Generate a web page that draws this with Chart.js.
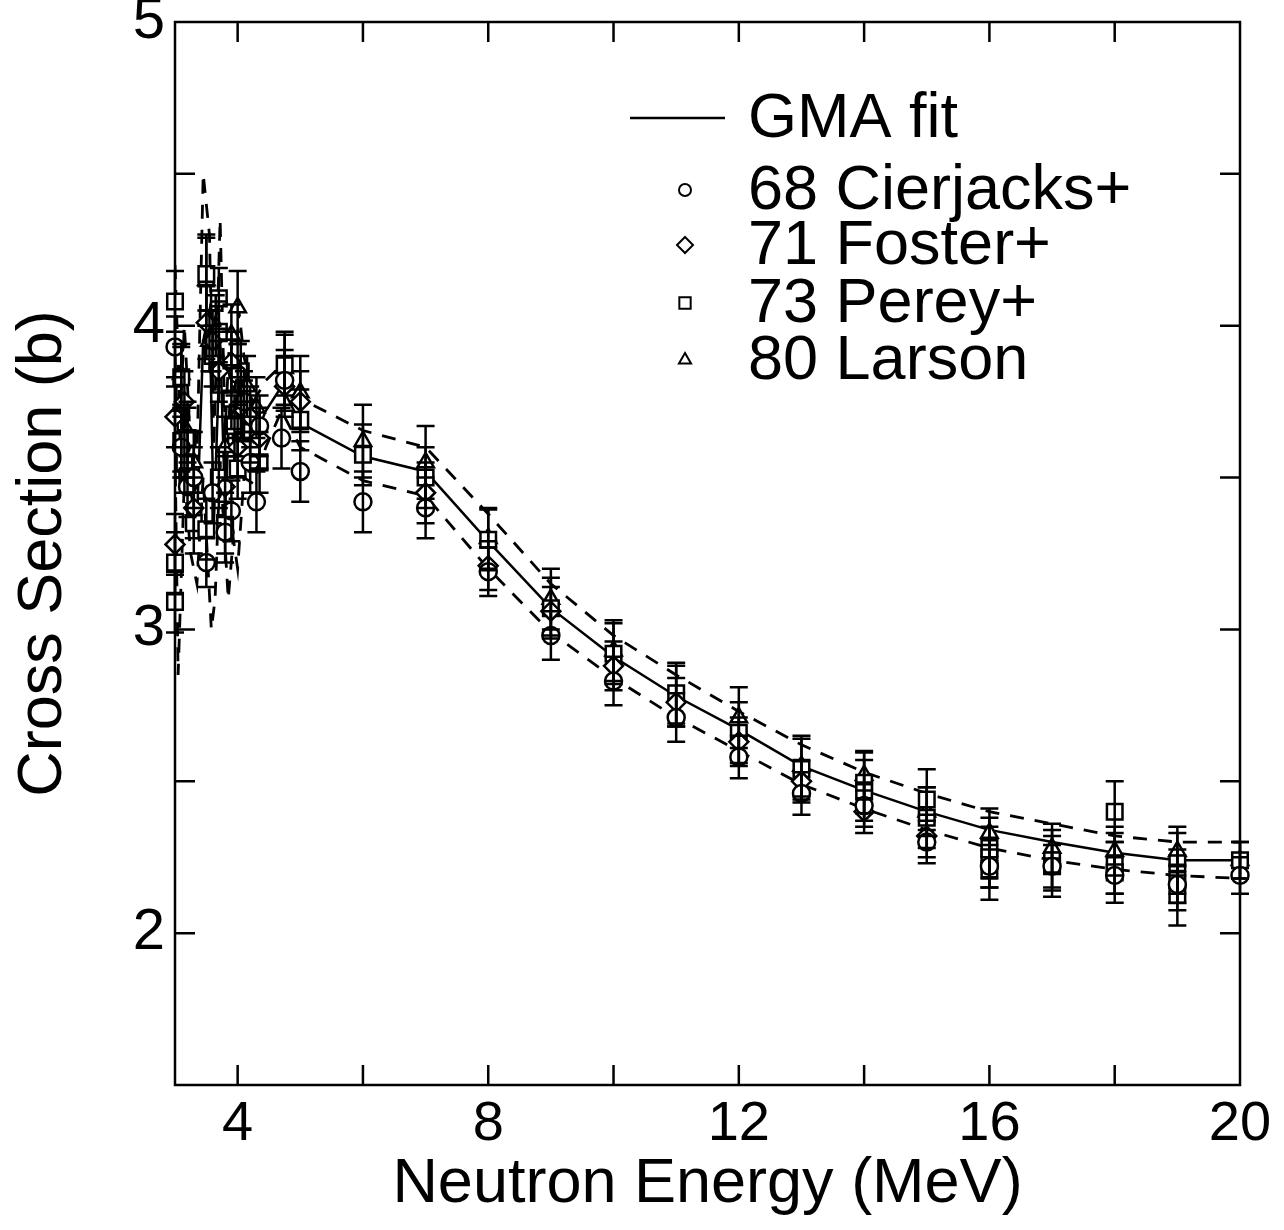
<!DOCTYPE html>
<html>
<head>
<meta charset="utf-8">
<script src="https://cdn.jsdelivr.net/npm/chart.js@4.4.1/dist/chart.umd.min.js"></script>
<style>
  html, body { margin: 0; padding: 0; background: #fff; }
  #wrap { width: 1284px; height: 1230px; }
</style>
</head>
<body>
<div id="wrap"><canvas id="c" width="1284" height="1230"></canvas></div>
<script>
// GMA fit (solid) and its uncertainty band (dashed), energies in MeV, cross sections in b
const fitE   = [3.0, 3.08, 3.15, 3.25, 3.35, 3.45, 3.55, 3.62, 3.72, 3.8, 3.88, 3.95, 4.02, 4.1, 4.25, 4.45, 4.7, 5, 6, 7, 8, 9, 10, 11, 12, 13, 14, 15, 16, 17, 18, 19, 20];
const fitSig = [3.92, 3.45, 3.78, 3.45, 3.35, 3.95, 4.05, 3.35, 3.95, 3.40, 3.78, 3.55, 3.85, 3.70, 3.62, 3.72, 3.80, 3.68, 3.57, 3.52, 3.29, 3.07, 2.91, 2.78, 2.67, 2.55, 2.47, 2.40, 2.34, 2.30, 2.265, 2.24, 2.24];

const upE   = [3.0, 3.08, 3.15, 3.25, 3.35, 3.45, 3.55, 3.62, 3.72, 3.8, 3.88, 3.95, 4.02, 4.1, 4.25, 4.45, 4.7, 5, 6, 7, 8, 9, 10, 11, 12, 13, 14, 15, 16, 17, 18, 19, 20];
const upSig = [4.20, 3.70, 4.00, 3.60, 3.55, 4.50, 4.30, 3.60, 4.35, 3.65, 4.00, 3.75, 4.05, 3.90, 3.75, 3.82, 3.87, 3.76, 3.655, 3.60, 3.38, 3.15, 2.98, 2.85, 2.73, 2.62, 2.53, 2.46, 2.40, 2.36, 2.32, 2.30, 2.30];

const loE   = [3.0, 3.05, 3.15, 3.25, 3.35, 3.45, 3.58, 3.64, 3.72, 3.85, 3.93, 4.0, 4.1, 4.25, 4.45, 4.7, 5, 6, 7, 8, 9, 10, 11, 12, 13, 14, 15, 16, 17, 18, 19, 20];
const loSig = [3.60, 2.85, 3.50, 3.25, 3.15, 3.50, 3.00, 3.10, 3.55, 3.10, 3.30, 3.20, 3.50, 3.48, 3.60, 3.72, 3.60, 3.49, 3.44, 3.20, 2.99, 2.84, 2.71, 2.60, 2.49, 2.41, 2.34, 2.28, 2.24, 2.21, 2.19, 2.18];

// 68 Cierjacks+
const cierE   = [3.0, 3.1, 3.2, 3.3, 3.5, 3.6, 3.8, 3.9, 4.0, 4.1, 4.2, 4.3, 4.35, 4.7, 4.75, 5, 6, 7, 8, 9, 10, 11, 12, 13, 14, 15, 16, 17, 18, 19, 20];
const cierSig = [3.93, 3.60, 3.47, 3.50, 3.22, 3.45, 3.32, 3.39, 3.84, 3.75, 3.55, 3.42, 3.67, 3.63, 3.82, 3.52, 3.42, 3.40, 3.19, 2.98, 2.83, 2.71, 2.58, 2.46, 2.42, 2.30, 2.22, 2.22, 2.19, 2.16, 2.19];
const cierErr = [0.10, 0.10, 0.10, 0.10, 0.08, 0.10, 0.10, 0.10, 0.10, 0.10, 0.10, 0.10, 0.10, 0.10, 0.10, 0.10, 0.10, 0.10, 0.08, 0.08, 0.08, 0.08, 0.07, 0.07, 0.07, 0.07, 0.07, 0.07, 0.06, 0.06, 0.06];

// 71 Foster+
const fostE   = [3.0, 3.0, 3.15, 3.3, 3.5, 3.6, 3.7, 3.8, 3.9, 4.0, 4.1, 4.2, 4.35, 4.75, 5, 7, 8, 9, 10, 11, 12, 13, 14, 15];
const fostSig = [3.70, 3.28, 3.75, 3.40, 4.01, 3.95, 3.85, 3.47, 3.88, 3.60, 3.72, 3.70, 3.63, 3.80, 3.75, 3.45, 3.21, 3.06, 2.88, 2.76, 2.63, 2.50, 2.40, 2.32];
const fostErr = [0.10, 0.10, 0.10, 0.10, 0.12, 0.10, 0.10, 0.10, 0.10, 0.10, 0.10, 0.10, 0.10, 0.10, 0.10, 0.10, 0.08, 0.08, 0.08, 0.08, 0.08, 0.07, 0.07, 0.07];

// 73 Perey+
const perE   = [3.0, 3.0, 3.0, 3.1, 3.1, 3.15, 3.2, 3.3, 3.5, 3.5, 3.6, 3.7, 3.7, 3.7, 3.8, 3.9, 3.95, 4.0, 4.05, 4.2, 4.35, 4.75, 5, 6, 7, 8, 9, 10, 11, 12, 13, 14, 14, 15, 15, 16, 16, 16, 17, 17, 18, 18, 18, 19, 19, 19, 20];
const perSig = [4.08, 3.22, 3.09, 3.83, 3.62, 3.55, 3.63, 3.35, 4.17, 3.33, 3.90, 4.09, 3.98, 3.50, 3.35, 3.76, 3.67, 3.53, 3.85, 3.65, 3.55, 3.87, 3.69, 3.575, 3.50, 3.295, 3.07, 2.92, 2.79, 2.66, 2.54, 2.495, 2.47, 2.44, 2.38, 2.28, 2.25, 2.21, 2.24, 2.22, 2.40, 2.23, 2.20, 2.23, 2.175, 2.125, 2.24];
const perErr = [0.10, 0.10, 0.10, 0.10, 0.10, 0.10, 0.10, 0.10, 0.12, 0.10, 0.10, 0.10, 0.10, 0.10, 0.10, 0.10, 0.10, 0.10, 0.10, 0.10, 0.10, 0.10, 0.10, 0.10, 0.10, 0.10, 0.10, 0.10, 0.10, 0.10, 0.10, 0.10, 0.10, 0.10, 0.10, 0.10, 0.10, 0.10, 0.10, 0.10, 0.10, 0.10, 0.10, 0.10, 0.10, 0.10, 0.06];

// 80 Larson
const larE   = [3.1, 3.2, 3.3, 3.5, 3.55, 3.65, 3.7, 3.8, 3.9, 4.0, 4.05, 4.15, 4.3, 4.75, 5, 6, 7, 8, 9, 10, 11, 12, 13, 14, 15, 16, 17, 18, 19, 20];
const larSig = [3.84, 3.65, 3.55, 4.15, 3.95, 4.00, 3.88, 3.60, 3.97, 4.06, 3.73, 3.80, 3.73, 3.86, 3.78, 3.62, 3.55, 3.30, 3.10, 2.93, 2.78, 2.71, 2.55, 2.52, 2.40, 2.33, 2.28, 2.27, 2.27, 2.24];
const larErr = [0.10, 0.10, 0.10, 0.15, 0.10, 0.10, 0.10, 0.10, 0.10, 0.12, 0.10, 0.10, 0.10, 0.12, 0.12, 0.12, 0.12, 0.10, 0.10, 0.10, 0.10, 0.10, 0.10, 0.08, 0.08, 0.08, 0.08, 0.08, 0.08, 0.06];

// axis ticks
const xTickVals  = [4, 6, 8, 10, 12, 14, 16, 18];
const xLabelVals = [4, 8, 12, 16, 20];
const yTickVals  = [2, 2.5, 3, 3.5, 4, 4.5];
const yLabelVals = [2, 3, 4, 5];

const FONT = "'Liberation Sans', Arial, Helvetica, sans-serif";

function pts(xs, ys) {
  return xs.map((x, i) => ({ x: x, y: ys[i] }));
}

function markerSet(label, xs, ys, errs, style, radius) {
  return {
    label: label,
    data: pts(xs, ys),
    errors: errs,
    showLine: false,
    pointStyle: style,
    pointRadius: radius,
    pointBackgroundColor: '#fff',
    pointBorderColor: '#000',
    pointBorderWidth: 2.5,
    clip: false
  };
}

function lineSet(label, xs, ys, dashed) {
  return {
    label: label,
    data: pts(xs, ys),
    showLine: true,
    borderColor: '#000',
    borderWidth: dashed ? 2.8 : 2.5,
    borderDash: dashed ? [14, 11] : [],
    pointRadius: 0,
    tension: 0
  };
}

// error bars drawn from the data arrays through the y scale
const errorBars = {
  id: 'errorBars',
  afterDatasetsDraw(chart) {
    const ctx = chart.ctx;
    const ys = chart.scales.y;
    ctx.save();
    ctx.strokeStyle = '#000';
    ctx.lineWidth = 2.5;
    chart.data.datasets.forEach((ds, di) => {
      if (!ds.errors) return;
      const meta = chart.getDatasetMeta(di);
      meta.data.forEach((el, i) => {
        const v = ds.data[i].y, e = ds.errors[i];
        const top = ys.getPixelForValue(v + e);
        const bot = ys.getPixelForValue(v - e);
        const x = el.x, w = 9;
        ctx.beginPath();
        ctx.moveTo(x, top); ctx.lineTo(x, bot);
        ctx.moveTo(x - w, top); ctx.lineTo(x + w, top);
        ctx.moveTo(x - w, bot); ctx.lineTo(x + w, bot);
        ctx.stroke();
      });
    });
    ctx.restore();
  }
};

// box frame with inward ticks on all four sides
const frameTicks = {
  id: 'frameTicks',
  afterDraw(chart) {
    const ctx = chart.ctx;
    const a = chart.chartArea;
    const xs = chart.scales.x, ys = chart.scales.y;
    const len = 20;
    ctx.save();
    ctx.strokeStyle = '#000';
    ctx.lineWidth = 2.5;
    ctx.strokeRect(a.left, a.top, a.right - a.left, a.bottom - a.top);
    ctx.beginPath();
    xTickVals.forEach(v => {
      const px = xs.getPixelForValue(v);
      ctx.moveTo(px, a.bottom); ctx.lineTo(px, a.bottom - len);
      ctx.moveTo(px, a.top); ctx.lineTo(px, a.top + len);
    });
    yTickVals.forEach(v => {
      const py = ys.getPixelForValue(v);
      ctx.moveTo(a.left, py); ctx.lineTo(a.left + len, py);
      ctx.moveTo(a.right, py); ctx.lineTo(a.right - len, py);
    });
    ctx.stroke();
    ctx.restore();
  }
};

// legend in the upper right of the plot
const boxLegend = {
  id: 'boxLegend',
  afterDraw(chart) {
    const ctx = chart.ctx;
    const a = chart.chartArea;
    const symX = a.left + 510;
    const textX = a.left + 573;
    const rows = [
      { text: 'GMA fit', y: a.top + 96, line: true },
      { text: '68 Cierjacks+', y: a.top + 168, style: 'circle', r: 6 },
      { text: '71 Foster+', y: a.top + 223, style: 'rectRot', r: 8 },
      { text: '73 Perey+', y: a.top + 281, style: 'rect', r: 8 },
      { text: '80 Larson', y: a.top + 338, style: 'triangle', r: 7 }
    ];
    ctx.save();
    ctx.fillStyle = '#000';
    ctx.strokeStyle = '#000';
    ctx.font = '63px ' + FONT;
    ctx.textBaseline = 'middle';
    ctx.textAlign = 'left';
    rows.forEach(r => {
      if (r.line) {
        ctx.lineWidth = 2.5;
        ctx.beginPath();
        ctx.moveTo(symX - 55, r.y); ctx.lineTo(symX + 40, r.y);
        ctx.stroke();
      } else {
        ctx.fillStyle = '#fff';
        ctx.lineWidth = 2;
        Chart.helpers.drawPoint(ctx, { pointStyle: r.style, radius: r.r, rotation: 0, borderWidth: 2 }, symX, r.y);
        ctx.fillStyle = '#000';
      }
      ctx.fillText(r.text, textX, r.y + 2);
    });
    ctx.restore();
  }
};

new Chart(document.getElementById('c'), {
  type: 'scatter',
  data: {
    datasets: [
      markerSet('68 Cierjacks+', cierE, cierSig, cierErr, 'circle', 8.5),
      markerSet('71 Foster+', fostE, fostSig, fostErr, 'rectRot', 9.5),
      markerSet('73 Perey+', perE, perSig, perErr, 'rect', 11),
      markerSet('80 Larson', larE, larSig, larErr, 'triangle', 9.5),
      lineSet('GMA fit', fitE, fitSig, false),
      lineSet('upper', upE, upSig, true),
      lineSet('lower', loE, loSig, true)
    ]
  },
  options: {
    responsive: false,
    animation: false,
    devicePixelRatio: 1,
    layout: { padding: { top: 22, right: 44, left: 0, bottom: 0 } },
    plugins: {
      legend: { display: false },
      tooltip: { enabled: false }
    },
    scales: {
      x: {
        type: 'linear',
        min: 3,
        max: 20,
        grid: { display: false, drawTicks: false },
        border: { display: false },
        afterBuildTicks: s => { s.ticks = xLabelVals.map(v => ({ value: v })); },
        afterFit: s => { s.height = 145; s.paddingLeft = 0; s.paddingRight = 0; },
        ticks: {
          color: '#000',
          padding: 6,
          maxRotation: 0,
          font: { family: FONT, size: 56 }
        },
        title: {
          display: true,
          text: 'Neutron Energy (MeV)',
          color: '#000',
          padding: { top: 0, bottom: 8 },
          font: { family: FONT, size: 63 }
        }
      },
      y: {
        type: 'linear',
        min: 1.5,
        max: 5,
        grid: { display: false, drawTicks: false },
        border: { display: false },
        afterBuildTicks: s => { s.ticks = yLabelVals.map(v => ({ value: v })); },
        afterFit: s => { s.width = 175; s.paddingTop = 0; s.paddingBottom = 0; },
        ticks: {
          color: '#000',
          padding: 10,
          font: { family: FONT, size: 58 }
        },
        title: {
          display: true,
          text: 'Cross Section (b)',
          color: '#000',
          padding: { top: 6, bottom: 0 },
          font: { family: FONT, size: 63 }
        }
      }
    }
  },
  plugins: [errorBars, frameTicks, boxLegend]
});
</script>
</body>
</html>
